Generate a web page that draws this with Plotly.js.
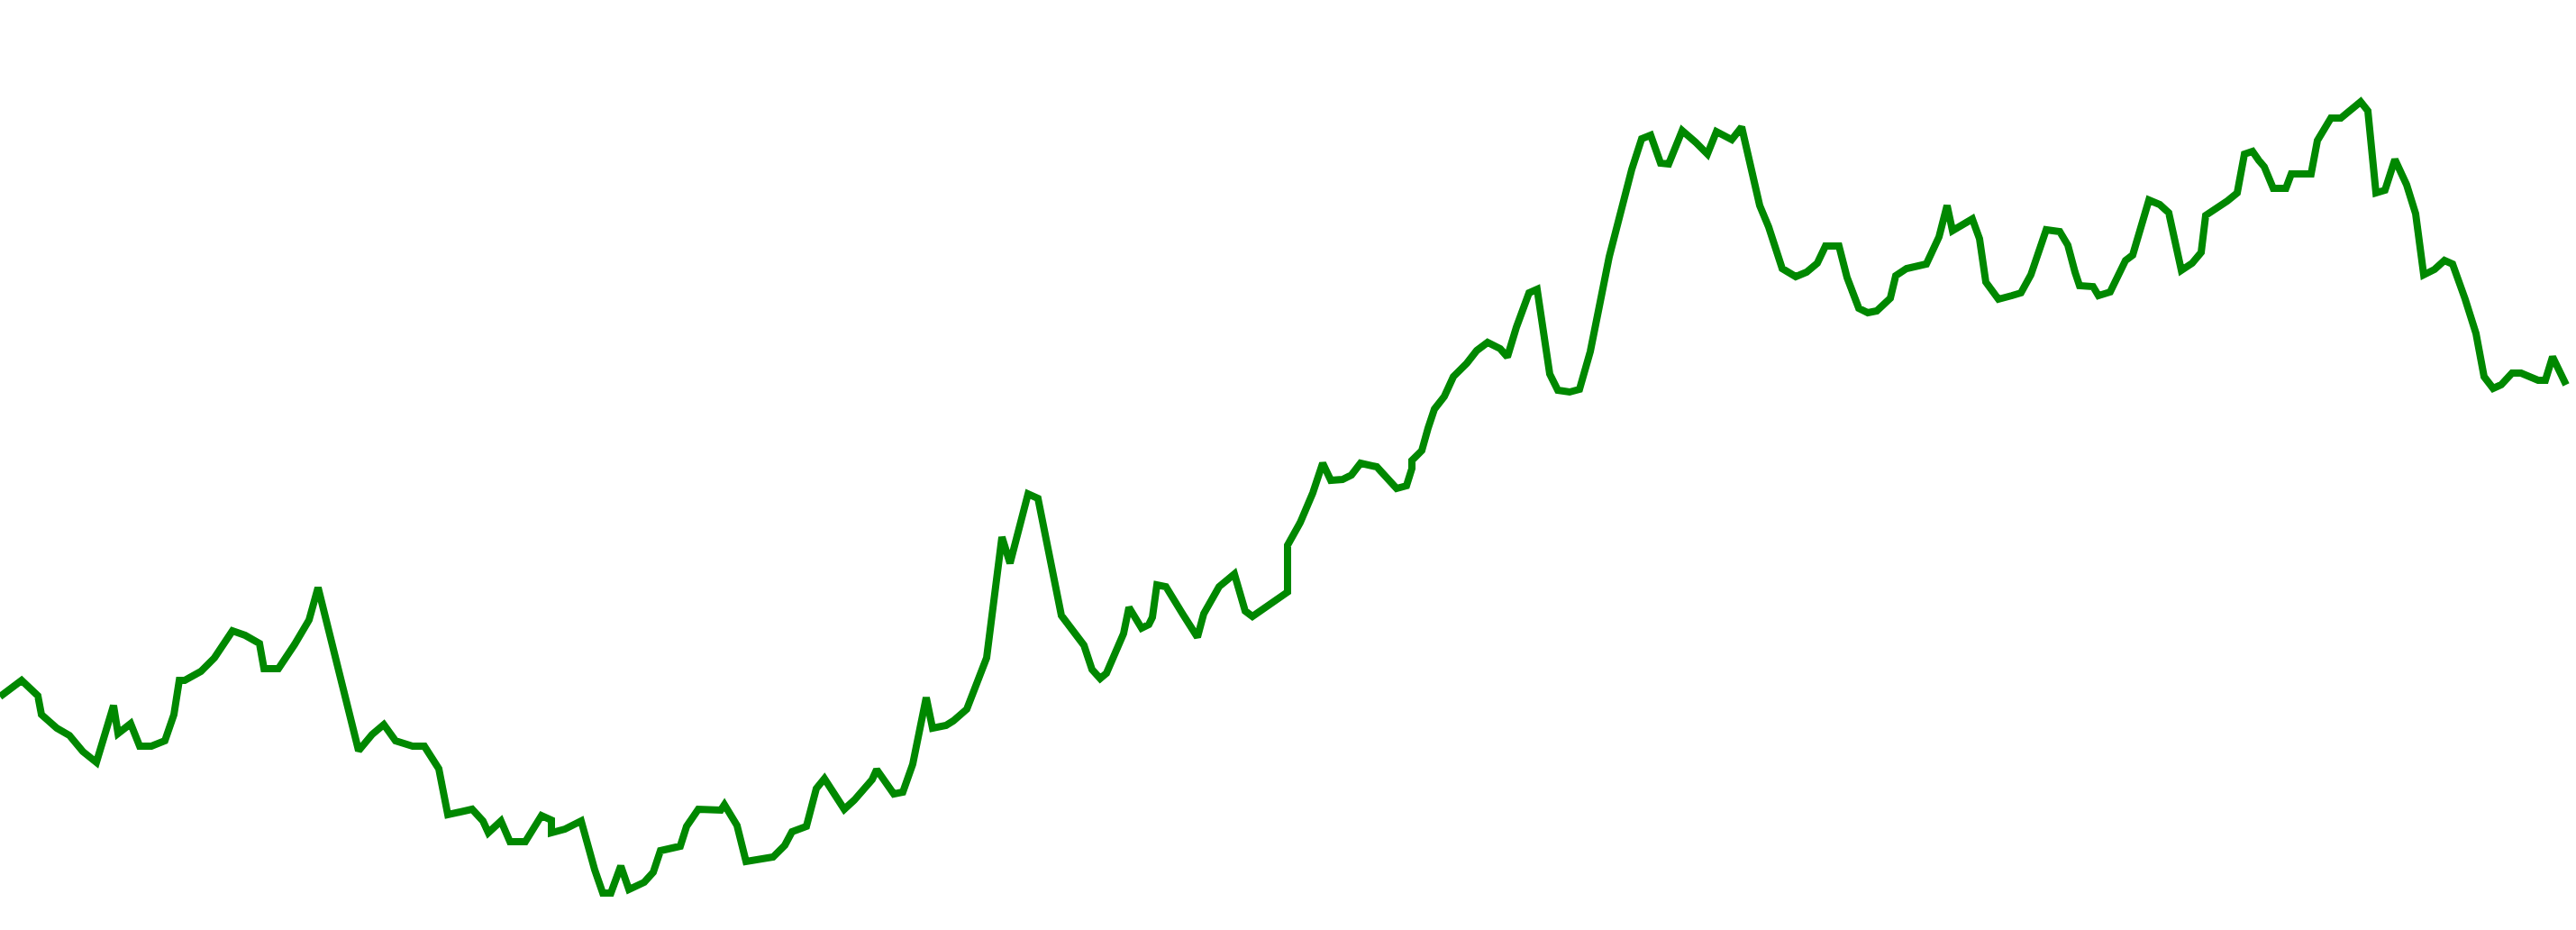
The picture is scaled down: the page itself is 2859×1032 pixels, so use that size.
<!DOCTYPE html>
<html>
<head>
<meta charset="utf-8">
<script src="https://cdn.plot.ly/plotly-3.0.1.min.js"></script>
<style>html,body{margin:0;padding:0;background:#fff;}#chart{width:2859px;height:1032px;}</style>
</head>
<body>
<div id="chart"></div>
<script>
// Time positions (horizontal) and series level (vertical, top = 0)
const t = [0,24,42,46,63,77,92,107,126,131,145,155,168,183,193,199,205,223,238,258,272,288,293,309,327,343,353,381,398,413,426,439,458,471,487,497,
524,536,542,556,566,583,601,612,612,627,645,660,669,678,689,698,715,725,733,755,762,775,800,804,818,828,858,871,879,895,906,915,930,937,948,
957,968,973,983,992,1002,1013,1028,1035,1050,1058,1073,1082,1095,1112,1121,1141,1152,1178,1203,1212,1221,1228,1237,1247,1253,1267,1275,1279,1284,1294,1313,1329,1336,1353,1370,1382,1390,1410,1429,
1429,1443,1457,1468,1477,1490,1500,1510,1528,1540,1550,1561,1567,1567,1578,1585,1592,1603,1613,1628,1639,1651,1665,1673,1683,1697,1706,1720,1729,1742,1753,1765,1786,1811,1822,1832,
1843,1852,1867,1882,1895,1905,1922,1933,1945,1953,1963,1978,1993,2005,2017,2026,2041,2050,2063,2073,2083,2098,2104,2116,2138,2152,2161,2167,2189,2197,2204,2218,2233,2243,2254,2263,2271,2286,2295,
2303,2308,2323,2329,2342,2359,2367,2385,2397,2407,2421,2433,2443,2448,2472,2483,2491,2500,2507,2513,2523,2537,2543,2565,2572,2587,2598,2613,2620,2628,2637,2647,2658,2671,2681,2690,2702,2713,2722,2736,2748,2757,2767,2776,2788,2798,2817,2825,2833,2848];
const level = [773,755,772,793,808,816,834,846,783,814,803,828,828,822,793,755,755,745,730,700,705,714,742,742,715,688,652,763,833,815,804,822,828,828,853,904,
898,911,924,911,934,934,905,910,924,920,911,965,991,991,961,987,979,968,944,939,917,898,899,893,916,956,951,938,923,917,875,864,888,898,888,
877,865,854,868,881,879,848,774,808,805,800,787,762,730,596,625,548,553,683,716,743,753,747,725,703,674,697,693,685,649,651,682,707,681,651,637,678,684,670,657,
605,580,547,514,533,532,527,514,518,532,542,539,520,511,500,475,454,440,418,403,389,380,387,396,363,325,321,415,433,435,432,390,285,188,154,150,
181,182,145,158,171,146,155,141,195,228,252,298,307,302,292,273,273,308,342,347,345,331,306,298,293,263,228,256,243,265,313,332,328,325,305,277,255,257,272,
302,317,318,328,324,289,283,222,227,236,300,292,280,239,223,214,171,168,178,185,209,209,193,193,156,131,131,117,113,123,214,211,177,205,237,305,299,289,293,332,370,418,431,427,414,414,422,422,396,427];

const trace = {
  x: t, y: level, type: 'scatter', mode: 'lines',
  line: {color: '#008800', width: 8},
  hoverinfo: 'skip'
};
const layout = {
  width: 2859, height: 1032,
  margin: {l: 0, r: 0, t: 0, b: 0, pad: 0},
  paper_bgcolor: '#ffffff', plot_bgcolor: '#ffffff',
  showlegend: false,
  xaxis: {visible: false, range: [0, 2859], fixedrange: true},
  yaxis: {visible: false, range: [1032, 0], fixedrange: true}
};
Plotly.newPlot('chart', [trace], layout, {displayModeBar: false, staticPlot: true});
</script>
</body>
</html>
